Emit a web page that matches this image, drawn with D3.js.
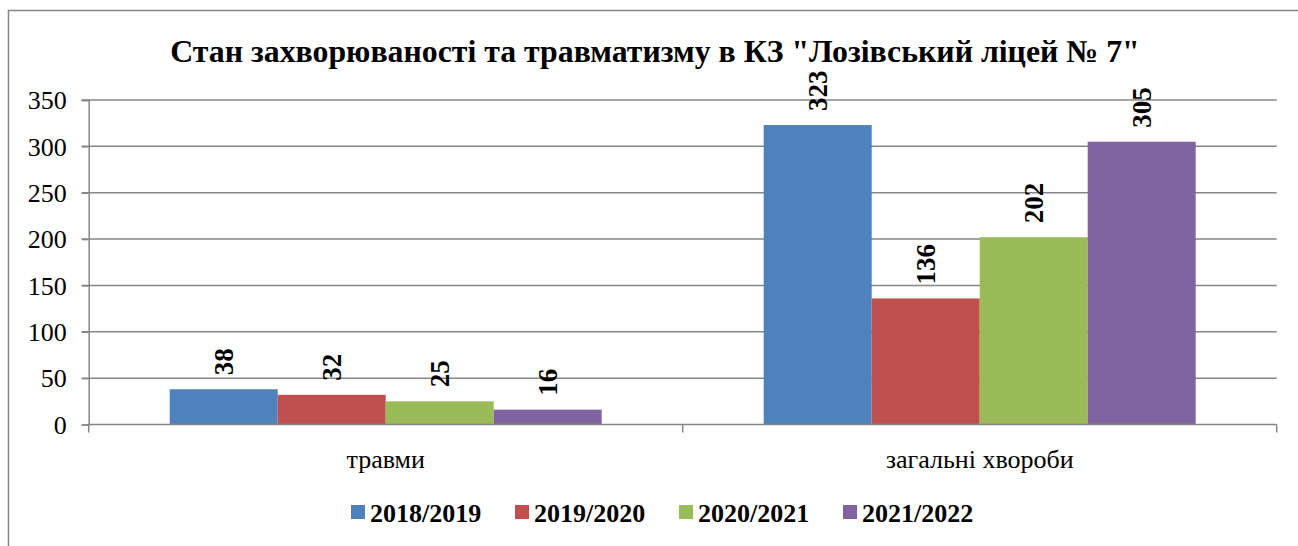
<!DOCTYPE html>
<html>
<head>
<meta charset="utf-8">
<script src="https://cdn.jsdelivr.net/npm/d3@7"></script>
</head>
<body style="margin:0">
<script>
const categories = ["травми", "загальні хвороби"];
const years = ["2018/2019", "2019/2020", "2020/2021", "2021/2022"];
const values2018 = [38, 323];
const values2019 = [32, 136];
const values2020 = [25, 202];
const values2021 = [16, 305];
const yTicks = [0, 50, 100, 150, 200, 250, 300, 350];
const titleText = 'Стан захворюваності та травматизму в КЗ "Лозівський ліцей № 7"';

const FONT = "Liberation Serif";
const COLORS = ["#4F81BD", "#C0504D", "#9BBB59", "#8064A2"];
const GRID = "#868686";
const W = 1298, H = 546;
const MARGIN = { TOP: 100, LEFT: 88.7, RIGHT: 21.3, BOTTOM: 121.5 };
const w = W - MARGIN.LEFT - MARGIN.RIGHT;
const h = H - MARGIN.TOP - MARGIN.BOTTOM;

const series = [values2018, values2019, values2020, values2021];
const data = categories.map((c, i) => ({
  cat: c,
  vals: years.map((y, j) => ({ year: y, idx: j, value: series[j][i] }))
}));

const svg = d3.select("body").append("svg")
  .attr("width", W).attr("height", H)
  .attr("font-family", FONT);

// outer frame (right and bottom edges run off the picture)
svg.append("rect")
  .attr("x", 8.5).attr("y", 10.5)
  .attr("width", W + 20).attr("height", H + 20)
  .attr("fill", "none").attr("stroke", GRID).attr("stroke-width", 1.5);

// title, sized so it spans the same width as the original
const title = svg.append("text")
  .attr("x", 655).attr("y", 62)
  .attr("text-anchor", "middle")
  .attr("font-family", FONT)
  .attr("font-weight", "bold")
  .attr("font-size", 30)
  .text(titleText);
const tLen = title.node().getComputedTextLength();
title.attr("font-size", (30 * 970 / tLen).toFixed(2));

const g = svg.append("g").attr("transform", `translate(${MARGIN.LEFT}, ${MARGIN.TOP})`);

// scales
const yScale = d3.scaleLinear().domain([0, 350]).range([h, 0]);
const x0 = d3.scaleBand().domain(categories).range([0, w]).paddingInner(0).paddingOuter(0);
const x1 = d3.scaleBand().domain(years).range([0, x0.bandwidth()]).paddingInner(0).paddingOuter(0.75);

// gridlines
g.append("g").selectAll("line")
  .data(yTicks.filter(t => t > 0))
  .join("line")
  .attr("x1", -7).attr("x2", w)
  .attr("y1", d => yScale(d)).attr("y2", d => yScale(d))
  .attr("stroke", GRID).attr("stroke-width", 1.5);

// y axis
const yAxis = g.append("g")
  .call(d3.axisLeft(yScale).tickValues(yTicks).tickSize(7).tickPadding(15))
  .attr("font-family", FONT).attr("font-size", 26);
yAxis.select(".domain").attr("stroke", GRID).attr("stroke-width", 1.5);
yAxis.selectAll(".tick line").attr("stroke", GRID).attr("stroke-width", 1.5);
yAxis.selectAll(".tick text")
  .attr("fill", "#000")
  .attr("dy", "0.34em");

// bars
const groups = g.selectAll(".cat").data(data).join("g")
  .attr("class", "cat")
  .attr("transform", d => `translate(${x0(d.cat)}, 0)`);

groups.selectAll("rect").data(d => d.vals).join("rect")
  .attr("x", d => x1(d.year))
  .attr("y", d => yScale(d.value))
  .attr("width", x1.bandwidth())
  .attr("height", d => h - yScale(d.value))
  .attr("fill", d => COLORS[d.idx]);

// value labels
groups.selectAll("text").data(d => d.vals).join("text")
  .attr("transform", d => `translate(${x1(d.year) + x1.bandwidth() / 2}, ${yScale(d.value) - 14}) rotate(-90)`)
  .attr("dy", "0.35em")
  .attr("font-family", FONT).attr("font-weight", "bold").attr("font-size", 27)
  .text(d => d.value);

// x axis
const xAxis = g.append("g").attr("transform", `translate(0, ${h})`);
xAxis.append("line").attr("x1", 0).attr("x2", w)
  .attr("stroke", GRID).attr("stroke-width", 1.5);
xAxis.selectAll(".xt").data([0, ...categories.map(c => x0(c) + x0.bandwidth())])
  .join("line").attr("class", "xt")
  .attr("x1", d => d).attr("x2", d => d)
  .attr("y1", 0).attr("y2", 8)
  .attr("stroke", GRID).attr("stroke-width", 1.5);
xAxis.selectAll("text").data(categories).join("text")
  .attr("x", d => x0(d) + x0.bandwidth() / 2)
  .attr("y", 43)
  .attr("text-anchor", "middle")
  .attr("font-family", FONT).attr("font-size", 26)
  .text(d => d);

// legend
const legendX = [351, 515, 679, 843];
const legend = svg.append("g").selectAll("g").data(years).join("g")
  .attr("transform", (d, i) => `translate(${legendX[i]}, 505)`);
legend.append("rect")
  .attr("width", 14).attr("height", 14)
  .attr("fill", (d, i) => COLORS[i]);
legend.append("text")
  .attr("x", 19).attr("y", 17)
  .attr("font-family", FONT).attr("font-weight", "bold").attr("font-size", 26)
  .text(d => d);
</script>
</body>
</html>
